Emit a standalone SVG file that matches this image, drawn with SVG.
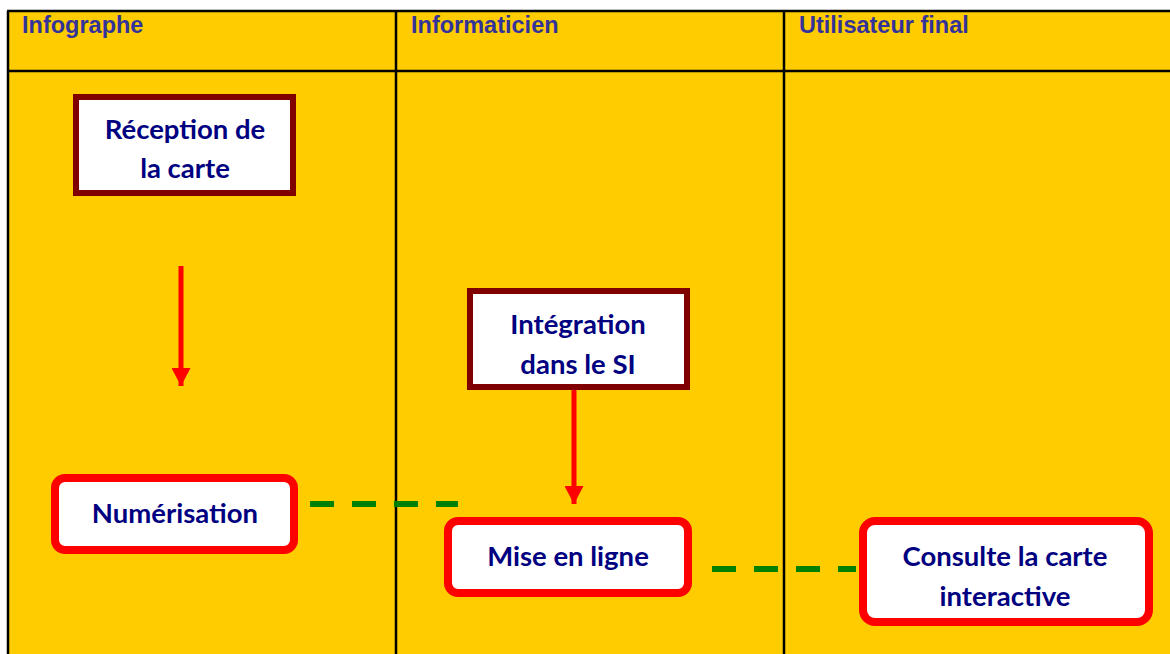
<svg xmlns="http://www.w3.org/2000/svg" width="1170" height="654" viewBox="0 0 1170 654">
<style>
.hdr{font-family:"Liberation Sans",Arial,sans-serif;font-weight:bold;font-size:23.5px;fill:#333399}
.lbl{font-family:Lato,"Open Sans",sans-serif;font-weight:bold;font-size:27.5px;fill:#000080;text-anchor:middle}
.sq{fill:#ffffff;stroke:#800000;stroke-width:6}
.rd{fill:#ffffff;stroke:#ff0000;stroke-width:8}
.grid{stroke:#000000;stroke-width:2.5;fill:none}
.flow{stroke:#ff0000;stroke-width:5;fill:none}
.dash{stroke:#008000;stroke-width:6;stroke-dasharray:24 18;fill:none}
</style>
<defs>
<marker id="ah" markerUnits="userSpaceOnUse" markerWidth="18" markerHeight="19" viewBox="0 0 18 19" refX="18" refY="9.5" orient="auto">
<path d="M0,0 L18,9.5 L0,19 Z" fill="#ff0000"/>
</marker>
</defs>
<rect x="0" y="0" width="1170" height="654" fill="#ffffff"/>
<g id="lanes">
<rect x="8" y="11" width="1170" height="660" fill="#ffcc00"/>
<path class="grid" d="M7,11 H1170 M8,11 V654 M7,71 H1170 M396,11 V654 M784,11 V654"/>
<text class="hdr" x="22" y="33">Infographe</text>
<text class="hdr" x="411" y="33">Informaticien</text>
<text class="hdr" x="799" y="33">Utilisateur final</text>
</g>
<g id="connectors">
<line class="flow" x1="181" y1="266" x2="181" y2="386" marker-end="url(#ah)"/>
<line class="flow" x1="574" y1="390" x2="574" y2="504" marker-end="url(#ah)"/>
<line class="dash" x1="310" y1="504" x2="458" y2="504"/>
<line class="dash" x1="712" y1="569" x2="856" y2="569"/>
</g>
<g id="reception">
<rect class="sq" x="76" y="97" width="217" height="96"/>
<text class="lbl" x="185" y="139">Réception de</text>
<text class="lbl" x="185" y="178">la carte</text>
</g>
<g id="numerisation">
<rect class="rd" x="55" y="478" width="239" height="72" rx="10"/>
<text class="lbl" x="175" y="523">Numérisation</text>
</g>
<g id="integration">
<rect class="sq" x="470" y="291" width="217" height="96"/>
<text class="lbl" x="578" y="334">Intégration</text>
<text class="lbl" x="578" y="374">dans le SI</text>
</g>
<g id="miseenligne">
<rect class="rd" x="448" y="521" width="240" height="72" rx="10"/>
<text class="lbl" x="568" y="566">Mise en ligne</text>
</g>
<g id="consulte">
<rect class="rd" x="863" y="521" width="286" height="101" rx="12"/>
<text class="lbl" x="1005" y="566">Consulte la carte</text>
<text class="lbl" x="1005" y="606">interactive</text>
</g>
</svg>
